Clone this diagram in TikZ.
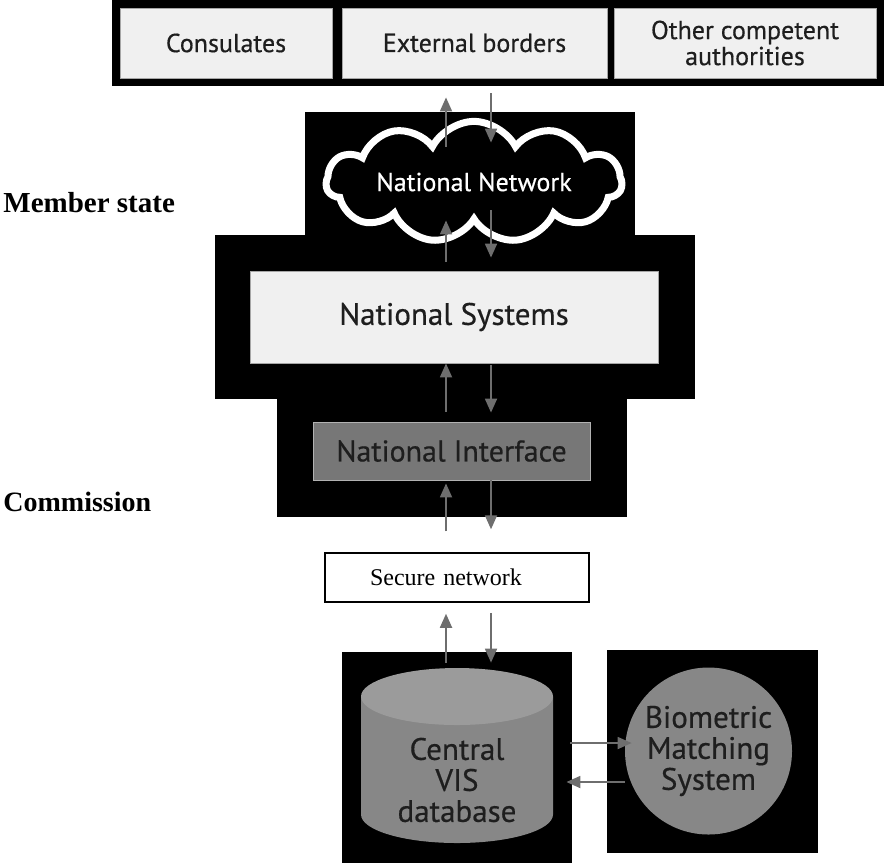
\documentclass[tikz,border=0pt]{standalone}
\usepackage{fontspec}
\setmainfont{Liberation Serif}
\newfontfamily\visfont{PT Sans}[FakeBold=0.5]
\usetikzlibrary{shapes.symbols}
\usetikzlibrary{calc}
\usetikzlibrary{arrows.meta}

\definecolor{boxgray}{HTML}{F0F0F0}
\definecolor{midgray}{HTML}{777777}
\definecolor{arrowgray}{HTML}{6E6E6E}
\definecolor{dbbody}{HTML}{878787}
\definecolor{dbtop}{HTML}{9B9B9B}
\definecolor{textdark}{HTML}{1E1E1E}

\begin{document}
\begin{tikzpicture}[x=0.5pt, y=-0.5pt,
		blackbg/.style={rectangle, fill=black, inner sep=0pt},
		lightbox/.style={rectangle, fill=boxgray, draw=gray!70, line width=0.4pt, inner sep=0pt, text=textdark, align=center},
		darkbox/.style={rectangle, fill=midgray, draw=gray!60, line width=0.4pt, inner sep=0pt, text=textdark},
		visfnt/.style={font=\visfont\fontsize{#1}{#1}\selectfont},
		flow/.style={draw=arrowgray, line width=0.9pt, -{Triangle[length=7pt,width=6pt]}}]
		\useasboundingbox (0,0) rectangle (886,863);
		\coordinate (upl) at (446,0);
		\coordinate (dnl) at (491,0);
		\coordinate (rgt) at (0,743);
		\coordinate (lft) at (0,782);
		
		\node (agencies) [blackbg, minimum width=386pt, minimum height=43pt] at (498,43) {};
		\node (cons)  [lightbox, visfnt=13, minimum width=106pt, minimum height=35pt] at (226,43) {Consulates};
		\node (ext)   [lightbox, visfnt=13, minimum width=132.5pt, minimum height=35pt] at (474.5,43) {External borders};
		\node (other) [lightbox, visfnt=13, minimum width=131pt, minimum height=35pt] at (745,43) {Other competent\\authorities};
		
		\node (nsbg) [blackbg, minimum width=240pt, minimum height=82pt] at (455,317) {};
		\node (netbg) [blackbg, minimum width=165pt, minimum height=61.5pt] at (470,173.5) {};
		\node (natnet) [cloud, cloud puffs=11, cloud puff arc=125, aspect=4, fill=black, draw=white, line width=3.5pt,
			minimum width=140pt, minimum height=30pt, text=white, visfnt=13] at (474,182) {National Network};
		\node (natsys) [lightbox, visfnt=15.5, minimum width=204pt, minimum height=46pt] at (454,317) {National Systems};
		
		\node (nibg) [blackbg, minimum width=175pt, minimum height=59pt] at (452,458) {};
		\node (natif) [darkbox, visfnt=15, minimum width=138.5pt, minimum height=29pt] at (451.5,451) {National Interface};
		
		\node (secnet) [draw, line width=0.75pt, text width=87pt, inner xsep=22.5pt, inner ysep=0pt, minimum height=24.5pt,
			align=left, font=\fontsize{12}{14}\selectfont] at (457,577.5) {Secure network};
		
		\node (dbbg) [blackbg, minimum width=115pt, minimum height=105.5pt] at (457,757.5) {};
		\fill[dbbody] (361,696.5) -- (361,814.5) arc[start angle=180, end angle=360, x radius=48pt, y radius=14.25pt] -- (553,696.5) -- cycle;
		\fill[dbtop] (457,696.5) ellipse [x radius=48pt, y radius=14.25pt];
		\node (vis) [visfnt=15.5, text=textdark, align=center] at (457,780) {Central\\VIS\\database};
		
		\node (bmsbg) [blackbg, minimum width=105.5pt, minimum height=101.5pt] at (712.5,751.5) {};
		\node (bms) [circle, fill=dbbody, minimum size=83.5pt, inner sep=0pt, align=center, text=textdark, visfnt=15.5] at (708.5,751) {Biometric\\Matching\\System};
		
		\draw[flow] ($(netbg.north -| upl)+(0,35)$) -- ($(agencies.south -| upl)+(0,11)$);
		\draw[flow] ($(agencies.south -| dnl)+(0,7)$) -- ($(netbg.north -| dnl)+(0,31)$);
		\draw[flow] ($(natsys.north -| upl)+(0,-9)$) -- ($(netbg.south -| upl)+(0,-15)$);
		\draw[flow] ($(netbg.south -| dnl)+(0,-25)$) -- ($(natsys.north -| dnl)+(0,-13)$);
		\draw[flow] ($(natif.north -| upl)+(0,-10)$) -- (natsys.south -| upl);
		\draw[flow] ($(natsys.south -| dnl)+(0,2)$) -- ($(natif.north -| dnl)+(0,-9)$);
		\draw[flow] ($(secnet.north -| upl)+(0,-21)$) -- ($(natif.south -| upl)+(0,3)$);
		\draw[flow] (natif.south -| dnl) -- ($(secnet.north -| dnl)+(0,-23)$);
		\draw[flow] ($(dbbg.north -| upl)+(0,11)$) -- ($(secnet.south -| upl)+(0,11)$);
		\draw[flow] ($(secnet.south -| dnl)+(0,10)$) -- ($(dbbg.north -| dnl)+(0,11)$);
		\draw[flow] ($(dbbg.east |- rgt)+(-2,0)$) -- ($(bms.west |- rgt)+(7,0)$);
		\draw[flow] (bms.west |- lft) -- ($(dbbg.east |- lft)+(-6,0)$);
		
		\node (member) [anchor=west, inner sep=0pt, font=\bfseries\fontsize{14.5}{16}\selectfont] at (3,203) {Member state};
		\node (commission) [anchor=west, inner sep=0pt, font=\bfseries\fontsize{14}{16}\selectfont] at (3,502) {Commission};
	\end{tikzpicture}
\end{document}
